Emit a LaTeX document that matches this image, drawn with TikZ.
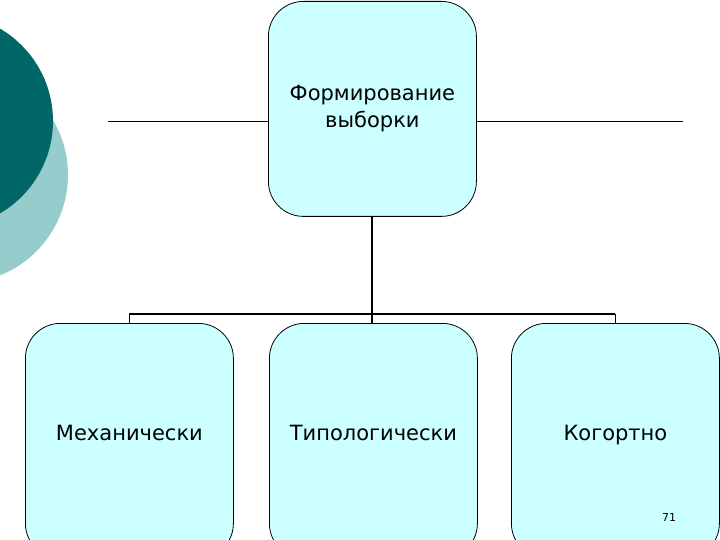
\documentclass[tikz,border=0pt]{standalone}
\usepackage{fontspec}
\setmainfont{DejaVu Sans}
\begin{document}
\begin{tikzpicture}[x=1pt,y=-1pt,
  box/.style={draw=black,fill={rgb,255:red,204;green,255;blue,255},rounded corners=35pt,minimum width=208pt,minimum height=215pt,anchor=north west,align=center,font=\fontsize{21}{27}\selectfont,line width=0.8pt},
  conn/.style={line width=2.2pt}]
\useasboundingbox (0,0) rectangle (720,540);
\clip (0,0) rectangle (720,540);
\fill[fill={rgb,255:red,150;green,204;blue,204}] (-40,175) circle (108);
\fill[fill={rgb,255:red,0;green,102;blue,102}] (-54,121) circle (107);
\node[box] (top) at (268,1) {Формирование\\выборки};
\node[box,minimum height=235pt,text height=15pt,text depth=4pt] (m) at (25,323) {\raisebox{6pt}{Механически}};
\node[box,minimum height=235pt,text height=15pt,text depth=4pt] (t) at (269,323) {\raisebox{6pt}{Типологически}};
\node[box,minimum height=235pt,text height=15pt,text depth=4pt] (k) at (511,323) {\raisebox{6pt}{Когортно}};
\node[font=\fontsize{11}{13}\selectfont] (n) at (669,517) {71};
\coordinate (ll) at (108,121);
\coordinate (rr) at (683,121);
\draw[line width=0.8pt] (ll) -- (ll -| top.west);
\draw[line width=0.8pt] (rr -| top.east) -- (rr);
\coordinate (j) at (372,314);
\draw[conn] (top.south -| j) -- (j);
\draw[line width=1.8pt] (m.north |- j) -- (k.north |- j);
\draw[line width=1.8pt] (m.north |- j) -- (m.north);
\draw[line width=1.8pt] (k.north |- j) -- (k.north);
\draw[conn] (j) -- (t.north -| j);
\end{tikzpicture}
\end{document}
